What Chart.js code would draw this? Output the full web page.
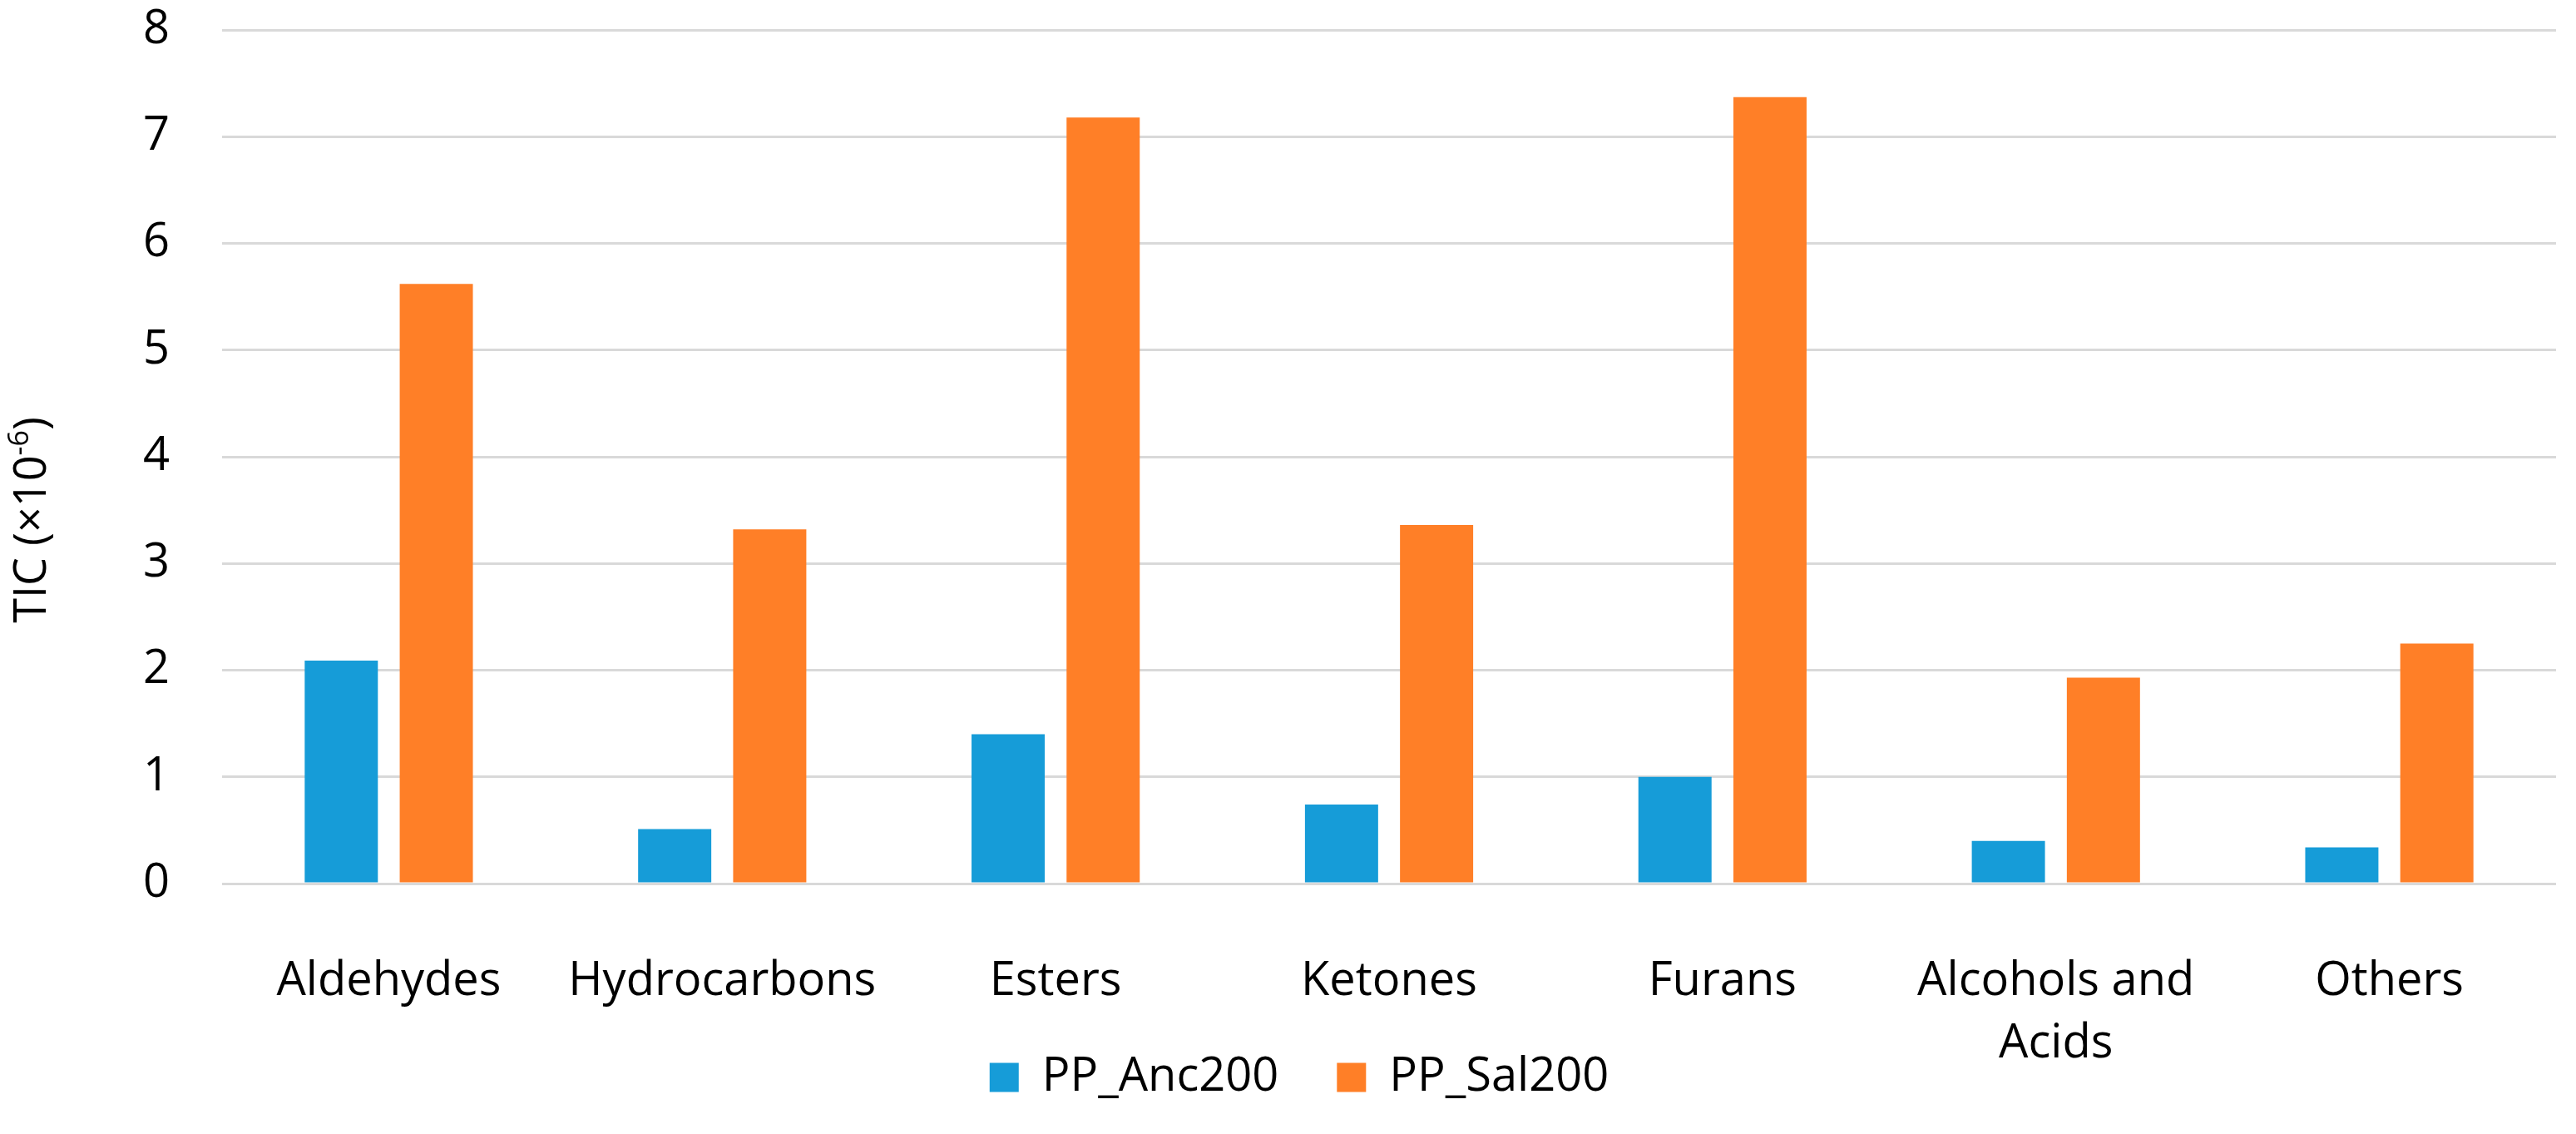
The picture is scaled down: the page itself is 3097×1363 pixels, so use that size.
<!DOCTYPE html>
<html>
<head>
<meta charset="utf-8">
<script src="https://cdn.jsdelivr.net/npm/chart.js@4.4.1/dist/chart.umd.min.js"></script>
<style>
  html, body { margin: 0; padding: 0; background: #fff; }
  #wrap { width: 3097px; height: 1363px; }
</style>
</head>
<body>
<div id="wrap"><canvas id="chart"></canvas></div>
<script>
// data (TIC x10^-6)
const categories = ["Aldehydes", "Hydrocarbons", "Esters", "Ketones", "Furans", ["Alcohols and", "Acids"], "Others"];
const anc200 = [2.09, 0.51, 1.40, 0.74, 1.00, 0.40, 0.34];
const sal200 = [5.62, 3.32, 7.18, 3.36, 7.37, 1.93, 2.25];
const seriesNames = ["PP_Anc200", "PP_Sal200"];
const yTicks = [0, 1, 2, 3, 4, 5, 6, 7, 8];

const FONT = "'Open Sans', sans-serif";
const blue = "#169CD8";
const orange = "#FF7F27";

// vertical y title with a real superscript, like the Excel original
const yTitlePlugin = {
  id: "yTitle",
  afterDraw(chart) {
    const ctx = chart.ctx;
    const a = chart.chartArea;
    const main = "TIC (×10", sup = "-6", tail = ")";
    ctx.save();
    ctx.fillStyle = "#000";
    ctx.translate(40, (a.top + a.bottom) / 2 + 76);
    ctx.rotate(-Math.PI / 2);
    ctx.textBaseline = "middle";
    ctx.font = "54px " + FONT;
    const w1 = ctx.measureText(main).width;
    const w3 = ctx.measureText(tail).width;
    ctx.font = "34px " + FONT;
    const w2 = ctx.measureText(sup).width;
    let x = -(w1 + w2 + w3) / 2;
    ctx.textAlign = "left";
    ctx.font = "54px " + FONT;
    ctx.fillText(main, x, 0);
    x += w1;
    ctx.font = "34px " + FONT;
    ctx.fillText(sup, x, -16);
    x += w2;
    ctx.font = "54px " + FONT;
    ctx.fillText(tail, x, 0);
    ctx.restore();
  }
};

new Chart(document.getElementById("chart"), {
  type: "bar",
  data: {
    labels: categories,
    datasets: [
      { label: seriesNames[0], data: anc200, backgroundColor: blue },
      { label: seriesNames[1], data: sal200, backgroundColor: orange }
    ]
  },
  options: {
    responsive: true,
    maintainAspectRatio: false,
    animation: false,
    categoryPercentage: 0.57,
    barPercentage: 0.77,
    layout: { padding: { left: 51, right: 24, top: 36, bottom: 30 } },
    plugins: {
      legend: {
        position: "bottom",
        labels: {
          color: "#000",
          font: { family: FONT, size: 56 },
          boxWidth: 35,
          boxHeight: 35,
          padding: 70
        }
      },
      tooltip: { enabled: false }
    },
    scales: {
      x: {
        grid: { display: false },
        border: { display: false },
        // the legend sits beside the second label line, as in Excel,
        // so shrink the axis box and let its labels draw outside it
        afterFit(scale) {
          scale.height = 135;
          scale._computeLabelArea = () => null;
        },
        ticks: {
          color: "#000",
          padding: 72,
          maxRotation: 0,
          autoSkip: false,
          font: { family: FONT, size: 56, lineHeight: 1.35 }
        }
      },
      y: {
        min: 0,
        max: 8,
        afterBuildTicks(scale) { scale.ticks = yTicks.map(v => ({ value: v })); },
        afterFit(scale) {
          scale.width = 216;
          scale.paddingTop = 0;
          scale.paddingBottom = 0;
        },
        grid: { color: "#D9D9D9", lineWidth: 3, drawTicks: false },
        border: { display: false },
        ticks: {
          color: "#000",
          padding: 63,
          font: { family: FONT, size: 56 }
        }
      }
    }
  },
  plugins: [yTitlePlugin]
});
</script>
</body>
</html>
